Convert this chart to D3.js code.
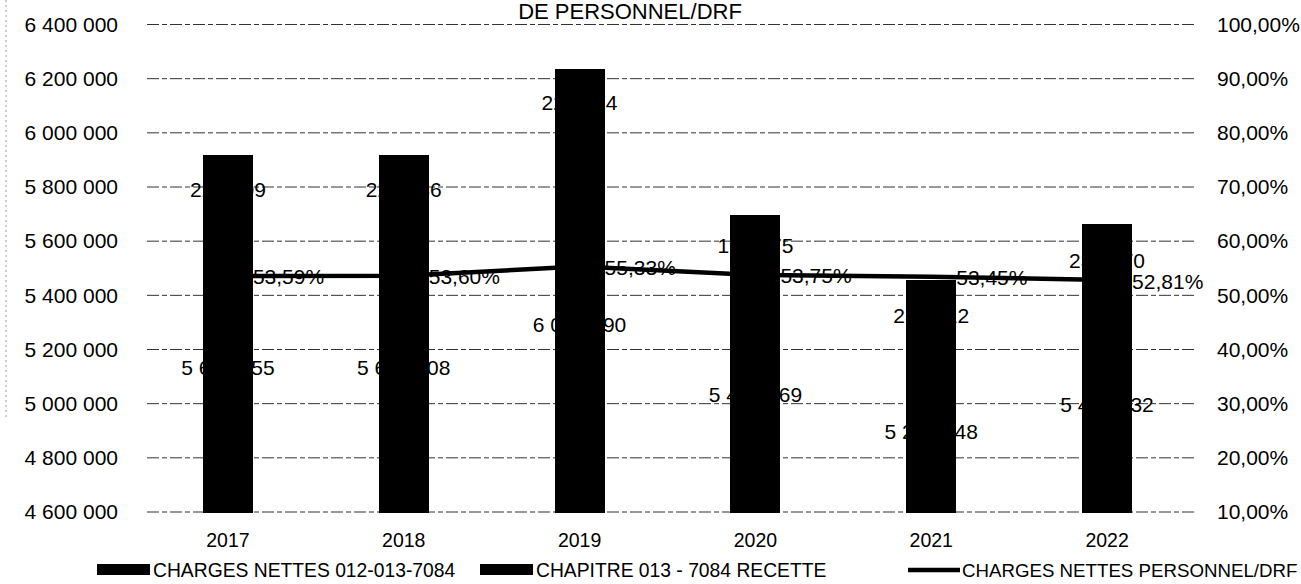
<!DOCTYPE html>
<html><head><meta charset="utf-8">
<script src="https://cdn.jsdelivr.net/npm/d3@7"></script>
<style>
html,body{margin:0;padding:0;background:#fff;}
svg{display:block;}
text{font-family:"Liberation Sans", Arial, sans-serif; fill:#000;}
</style></head>
<body>
<svg id="c" width="1301" height="584"></svg>
<script>
// ---- data ----
const years = ["2017","2018","2019","2020","2021","2022"];
const chargesNettes = [5693355, 5696408, 6016290, 5497869, 5223848, 5427432];
const chapitre013 = [225009, 222186, 220174, 199875, 234012, 234370];
const ratioDRF = [53.59, 53.60, 55.33, 53.75, 53.45, 52.81];
const leftTicks = [4600000, 4800000, 5000000, 5200000, 5400000, 5600000, 5800000, 6000000, 6200000, 6400000];
const rightTicks = [10, 20, 30, 40, 50, 60, 70, 80, 90, 100];
const seriesNames = ["CHARGES NETTES 012-013-7084", "CHAPITRE 013 - 7084 RECETTE", "CHARGES NETTES PERSONNEL/DRF"];
const titleText = "DE PERSONNEL/DRF";

const loc = d3.formatLocale({decimal: ",", thousands: " ", grouping: [3], currency: ["", " €"]});
const fmtNum = loc.format(",");
const fmtPct = v => loc.format(".2f")(v) + "%";

const svg = d3.select("#c");
const L = 140, R = 1195, T = 24.5, B = 512;

const x = d3.scaleBand().domain(years).range([L, R]).paddingInner(0.716).paddingOuter(0.358);
const y = d3.scaleLinear().domain([4600000, 6400000]).range([B, T]);
const y2 = d3.scaleLinear().domain([10, 100]).range([B, T]);

// title (top of chart)
svg.append("text").attr("x", 630).attr("y", 19).attr("text-anchor", "middle")
  .style("font-size", "22px").text(titleText);

// left border dotted
svg.append("line").attr("x1", 6).attr("x2", 6).attr("y1", 0).attr("y2", 420)
  .attr("stroke", "#999").attr("stroke-width", 1).attr("stroke-dasharray", "2,3");

// gridlines
svg.append("g").selectAll("line").data(leftTicks).join("line")
  .attr("x1", 147).attr("x2", R).attr("y1", d => y(d)).attr("y2", d => y(d))
  .attr("stroke", "#333").attr("stroke-width", 1).attr("stroke-dasharray", "12,3,5,3");

// left axis
const yAxis = d3.axisLeft(y).tickValues(leftTicks).tickFormat(fmtNum).tickSize(0).tickPadding(0);
const gy = svg.append("g").attr("transform", "translate(118,0)").call(yAxis);
gy.select(".domain").remove();
gy.selectAll("text").style("font-size", "21px").style("font-family", '"Liberation Sans", Arial, sans-serif').attr("fill", "#000");

// right axis
const y2Axis = d3.axisRight(y2).tickValues(rightTicks).tickFormat(d => fmtPct(d)).tickSize(0).tickPadding(0);
const gy2 = svg.append("g").attr("transform", "translate(1217,0)").call(y2Axis);
gy2.select(".domain").remove();
gy2.selectAll("text").style("font-size", "21px").style("font-family", '"Liberation Sans", Arial, sans-serif').attr("fill", "#000");

// x axis labels
const xAxis = d3.axisBottom(x).tickSize(0).tickPadding(0);
const gx = svg.append("g").attr("transform", "translate(0,533)").call(xAxis);
gx.select(".domain").remove();
gx.selectAll("text").style("font-size", "19.5px").style("font-family", '"Liberation Sans", Arial, sans-serif').attr("fill", "#000");

// stacked data
const rows = years.map((yr, i) => ({year: yr, a: chargesNettes[i], b: chapitre013[i]}));
const stack = d3.stack().keys(["a", "b"])(rows);

// segment labels (drawn under the bars, like the reference)
const lblG = svg.append("g");
stack.forEach(layer => {
  lblG.selectAll(null).data(layer).join("text")
    .attr("x", d => x(d.data.year) + x.bandwidth() / 2)
    .attr("y", d => (y(Math.max(d[0], 4600000)) + y(d[1])) / 2)
    .attr("dy", "0.55em")
    .attr("text-anchor", "middle")
    .style("font-size", "21px")
    .text(d => fmtNum(d[1] - d[0]));
});

// bars
const barG = svg.append("g").attr("shape-rendering", "crispEdges");
stack.forEach(layer => {
  barG.selectAll(null).data(layer).join("rect")
    .attr("x", d => x(d.data.year))
    .attr("width", x.bandwidth())
    .attr("y", d => y(d[1]))
    .attr("height", d => y(Math.max(d[0], 4600000)) - y(d[1]) + 1)
    .attr("fill", "#000");
});

// line
const pts = years.map((yr, i) => [x(yr) + x.bandwidth() / 2, y2(ratioDRF[i])]);
svg.append("path").datum(pts).attr("d", d3.line())
  .attr("fill", "none").attr("stroke", "#000").attr("stroke-width", 4.5).attr("stroke-linejoin", "round");

// percentage labels
svg.append("g").selectAll("text").data(years).join("text")
  .attr("x", (d) => x(d) + x.bandwidth() / 2 + 25)
  .attr("y", (d, i) => y2(ratioDRF[i]))
  .attr("dy", "0.4em")
  .style("font-size", "21px")
  .text((d, i) => fmtPct(ratioDRF[i]));

// legend
const lg = svg.append("g");
lg.append("rect").attr("x", 97).attr("y", 564).attr("width", 53).attr("height", 11).attr("fill", "#000");
lg.append("text").attr("x", 153).attr("y", 577).style("font-size", "19.3px").text(seriesNames[0]);
lg.append("rect").attr("x", 480).attr("y", 564).attr("width", 53).attr("height", 11).attr("fill", "#000");
lg.append("text").attr("x", 536).attr("y", 577).style("font-size", "19.3px").text(seriesNames[1]);
lg.append("line").attr("x1", 908).attr("x2", 960).attr("y1", 570).attr("y2", 570).attr("stroke", "#000").attr("stroke-width", 4.5);
lg.append("text").attr("x", 962).attr("y", 577).style("font-size", "18.7px").text(seriesNames[2]);
</script>
</body></html>
